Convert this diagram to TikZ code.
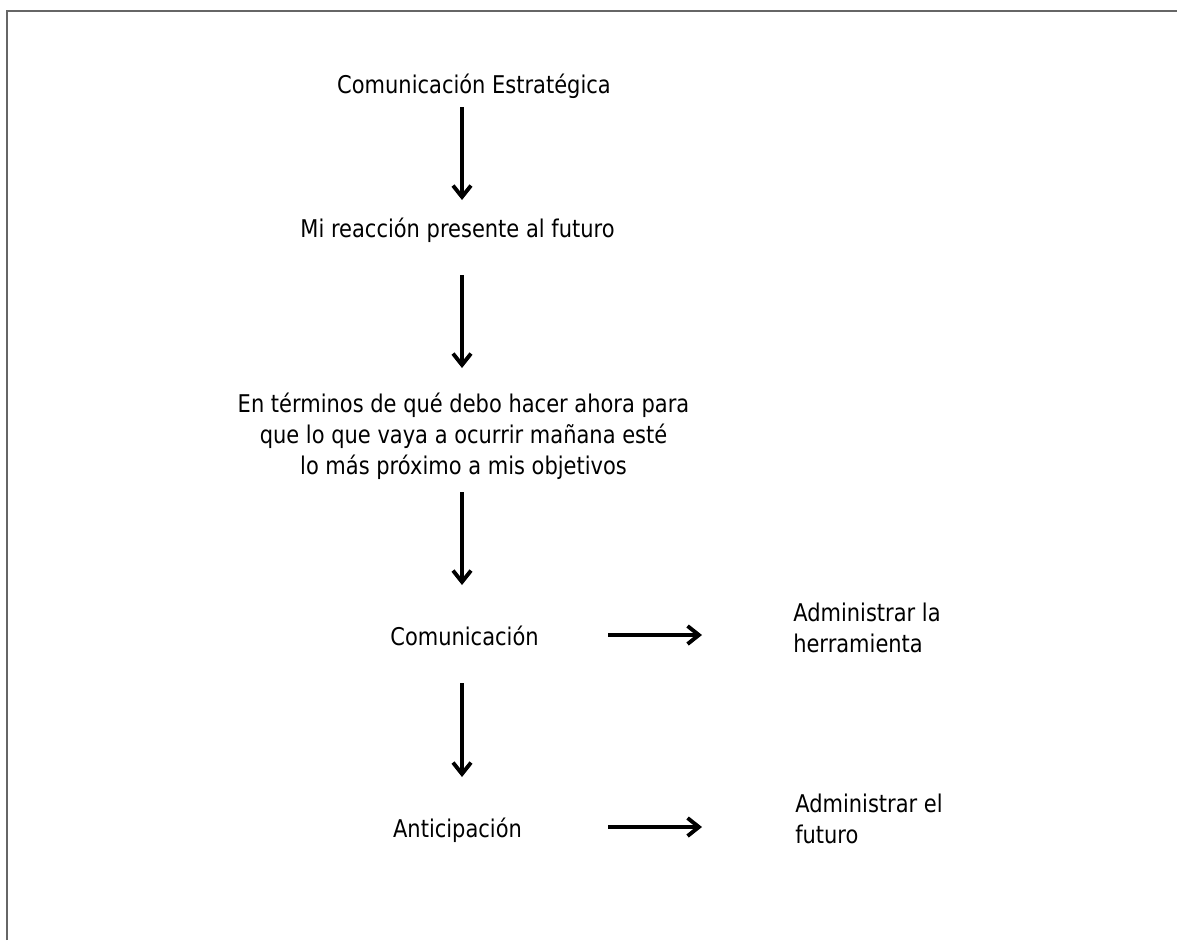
\documentclass[tikz,border=0pt]{standalone}
\usepackage{fontspec}
\setmainfont{DejaVu Sans}[FakeStretch=0.86]
\usetikzlibrary{arrows.meta,calc}
\tikzset{
  lbl/.style={inner sep=0pt, anchor=base, font=\fontsize{18.3pt}{23.25pt}\selectfont},
  lblw/.style={lbl, anchor=base west, align=left},
  arr/.style={line width=2.9pt, -{Straight Barb[length=8.5pt,width=13.5pt]}},
  frame/.style={draw=black!60, line width=1.6pt}
}
\begin{document}
\begin{tikzpicture}[x=0.75pt, y=-0.75pt]
  \useasboundingbox (0,0) rectangle (1177,940);
  % outer frame (top and left edges)
  \draw[frame] (7,940) -- (7,11) -- (1177,11);

  % column guides for the connectors
  \coordinate (spine) at (462,0);
  \coordinate (hs) at (608,0);
  \coordinate (he) at (702,0);

  % labels (multi-line nodes sit on the baseline of their last line)
  \node[lbl] (title) at (474,93) {Comunicación Estratégica};
  \node[lbl] (react) at (457.5,237) {Mi reacción presente al futuro};
  \node[lbl, align=center] (terms) at (463.5,474)
    {En términos de qué debo hacer ahora para\\que lo que vaya a ocurrir mañana esté\\lo más próximo a mis objetivos};
  \node[lbl] (comm) at (464.5,645) {Comunicación};
  \node[lbl] (antic) at (457.5,837) {Anticipación};
  \node[lblw] (tool) at (793,652) {Administrar la\\herramienta};
  \node[lblw] (future) at (795,843) {Administrar el\\futuro};

  % vertical flow
  \draw[arr] ($(spine |- title.base)+(0,14)$) -- ($(spine |- react.base)+(0,-37)$);
  \draw[arr] ($(spine |- react.base)+(0,38)$) -- ($(spine |- terms.base)+(0,-106)$);
  \draw[arr] ($(spine |- terms.base)+(0,18)$) -- ($(spine |- comm.base)+(0,-60)$);
  \draw[arr] ($(spine |- comm.base)+(0,38)$) -- ($(spine |- antic.base)+(0,-60)$);

  % side branches
  \draw[arr] ($(hs |- comm.base)+(0,-10)$) -- ($(he |- comm.base)+(0,-10)$);
  \draw[arr] ($(hs |- antic.base)+(0,-10)$) -- ($(he |- antic.base)+(0,-10)$);
\end{tikzpicture}
\end{document}
